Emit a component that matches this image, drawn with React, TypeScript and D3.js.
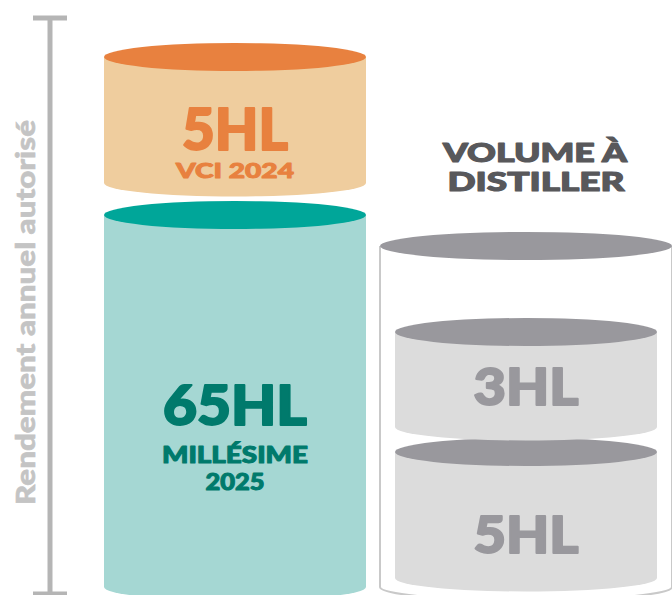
import React from 'react';
import * as d3 from 'd3';

const stackValues = [65, 5];
const stackLabels = ['65HL', '5HL'];
const stackSubLabels = [['MILLÉSIME', '2025'], ['VCI 2024']];
const distillValues = [5, 3];
const distillLabels = ['5HL', '3HL'];
const axisTitle = 'Rendement annuel autorisé';
const distillTitle = ['VOLUME À', 'DISTILLER'];
const columns = ['stock', 'distill'];

const W = 672;
const H = 595;
const FONT = 'Lato, "Open Sans", "DejaVu Sans", sans-serif';

// the infographic is not drawn to proportion, so the scale is piecewise
const hScale = d3.scaleLinear().domain([0, 3, 5, 65]).range([0, 95, 126, 372]);
const xScale = d3.scaleBand<string>().domain(columns).range([104, 657]).paddingInner(0.0997);

const baseY = 587;
const stackGap = 32;
const innerGap = 25;
const RY = 13.5;

const stackColors = [
  { body: '#A5D7D3', top: '#00A699', text: '#007A6C' },
  { body: '#EFCD9E', top: '#E8813F', text: '#E8813F' },
];
const grey = { body: '#DCDCDC', top: '#99989D', text: '#99989D' };

function bodyPath(x0: number, x1: number, yTop: number, yBot: number) {
  const rx = (x1 - x0) / 2;
  return `M${x0},${yTop}L${x0},${yBot}A${rx},${RY} 0 0 0 ${x1},${yBot}L${x1},${yTop}Z`;
}

function Cylinder({ x0, w, yTop, yBot, c }: any) {
  return (
    <g>
      <path d={bodyPath(x0, x0 + w, yTop, yBot)} fill={c.body} />
      <ellipse cx={x0 + w / 2} cy={yTop} rx={w / 2} ry={RY + 0.5} fill={c.top} />
    </g>
  );
}

// heavy text: bold glyphs thickened with a stroke of the same colour
function Label({ x, y, size, color, len, sw, children }: any) {
  return (
    <text
      x={x}
      y={y}
      fontSize={size}
      fill={color}
      stroke={color}
      strokeWidth={sw}
      strokeLinejoin="round"
      fontFamily={FONT}
      fontWeight={900}
      textAnchor="middle"
      textLength={len}
      lengthAdjust="spacingAndGlyphs"
    >
      {children}
    </text>
  );
}

export default function App() {
  const bw = xScale.bandwidth();
  const lx = xScale('stock')!;
  const rx = xScale('distill')!;
  const lc = lx + bw / 2;
  const rc = rx + bw / 2;

  // left stack: bottom value first
  let y = baseY;
  const stack = stackValues.map((v, i) => {
    const yBot = y;
    const yTop = yBot - hScale(v);
    y = yTop - stackGap;
    return { yTop, yBot, i };
  });

  // right stack, inside the container
  let y2 = baseY - 9;
  const inner = distillValues.map((v, i) => {
    const yBot = y2;
    const yTop = yBot - hScale(v);
    y2 = yTop - innerGap;
    return { yTop, yBot, i };
  });
  const outerTop = inner[inner.length - 1].yTop - 86;
  const ox0 = rx - 15;
  const ox1 = rx + bw + 15;

  return (
    <svg width={W} height={H} style={{ position: 'absolute', left: 0, top: 0, background: '#fff' }}>
      {/* axis */}
      <g stroke="#B5B5B5" strokeWidth={5}>
        <line x1={50} x2={50} y1={18} y2={594} />
        <line x1={33} x2={67} y1={18} y2={18} />
        <line x1={33} x2={67} y1={594} y2={594} />
      </g>
      <text
        transform={`translate(35,${(120 + 505) / 2}) rotate(-90)`}
        fill="#C4C4C4"
        stroke="#C4C4C4"
        strokeWidth={0.6}
        fontFamily={FONT}
        fontWeight={900}
        fontSize={27}
        textAnchor="middle"
        textLength={385}
        lengthAdjust="spacingAndGlyphs"
      >
        {axisTitle}
      </text>

      {/* stock cylinders */}
      {stack.map(({ yTop, yBot, i }) => (
        <Cylinder key={i} x0={lx} w={bw} yTop={yTop} yBot={yBot} c={stackColors[i]} />
      ))}
      <Label x={lc} y={stack[0].yTop + 210} size={55} color={stackColors[0].text} len={144} sw={2}>{stackLabels[0]}</Label>
      <Label x={lc} y={stack[0].yTop + 248} size={22} color={stackColors[0].text} len={146} sw={1}>{stackSubLabels[0][0]}</Label>
      <Label x={lc} y={stack[0].yTop + 275} size={22} color={stackColors[0].text} len={59} sw={1}>{stackSubLabels[0][1]}</Label>
      <Label x={lc} y={stack[1].yTop + 93} size={57} color={stackColors[1].text} len={106} sw={2}>{stackLabels[1]}</Label>
      <Label x={lc} y={stack[1].yTop + 121} size={21} color={stackColors[1].text} len={118} sw={1}>{stackSubLabels[1][0]}</Label>

      {/* container */}
      <path
        d={`M${ox0},${outerTop}L${ox0},${baseY}A${(ox1 - ox0) / 2},${RY} 0 0 0 ${ox1},${baseY}L${ox1},${outerTop}`}
        fill="none"
        stroke="#C9C9C9"
        strokeWidth={2}
      />
      <ellipse cx={(ox0 + ox1) / 2} cy={outerTop} rx={(ox1 - ox0) / 2} ry={RY + 0.5} fill={grey.top} />
      {inner.map(({ yTop, yBot, i }) => (
        <Cylinder key={i} x0={rx} w={bw} yTop={yTop} yBot={yBot} c={grey} />
      ))}
      <Label x={rc} y={inner[0].yTop + 101} size={52} color={grey.text} len={105} sw={2}>{distillLabels[0]}</Label>
      <Label x={rc} y={inner[1].yTop + 73} size={52} color={grey.text} len={105} sw={2}>{distillLabels[1]}</Label>

      {/* title */}
      <Label x={535} y={162} size={27} color="#58585B" len={184} sw={1.2}>{distillTitle[0]}</Label>
      <Label x={536} y={191} size={27} color="#58585B" len={177} sw={1.2}>{distillTitle[1]}</Label>
    </svg>
  );
}
